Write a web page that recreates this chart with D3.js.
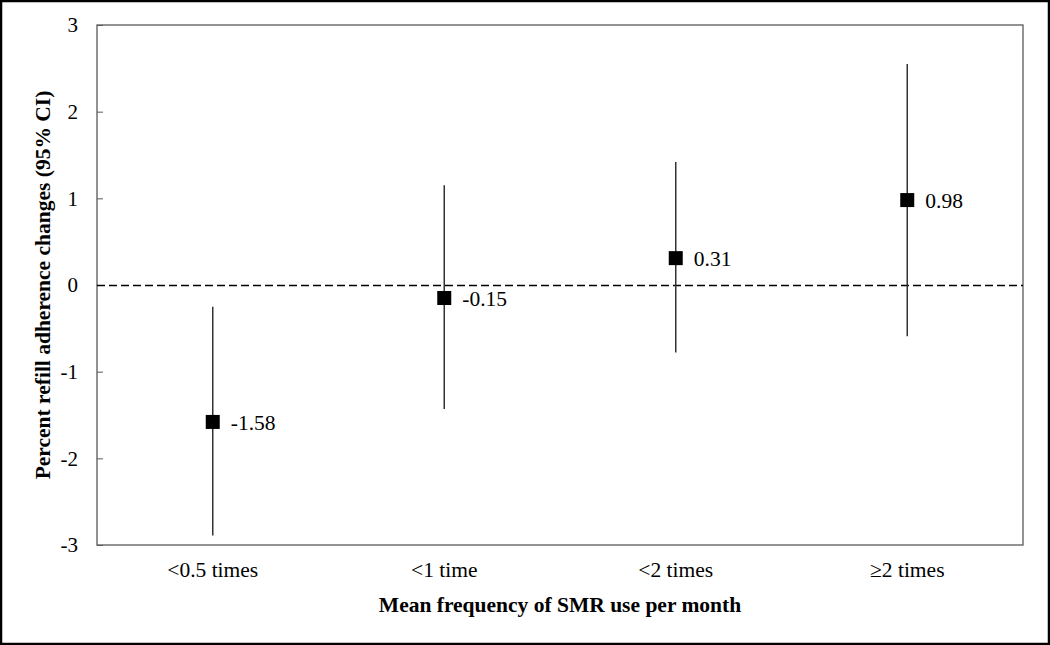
<!DOCTYPE html>
<html>
<head>
<meta charset="utf-8">
<script src="https://cdnjs.cloudflare.com/ajax/libs/d3/7.8.5/d3.min.js"></script>
<style>
  body { margin: 0; background: #fff; }
  svg { display: block; }
</style>
</head>
<body>
<svg></svg>
<script>
var categories = ["<0.5 times", "<1 time", "<2 times", "\u22652 times"];
var estimates = [-1.58, -0.15, 0.31, 0.98];
var lower = [-2.89, -1.43, -0.78, -0.59];
var upper = [-0.25, 1.15, 1.42, 2.55];
var yTicks = [-3, -2, -1, 0, 1, 2, 3];

var width = 1050;
var height = 645;
// plot box edges (don't use "top", it clashes with window.top)
var plotLeft = 97, plotRight = 1023, plotTop = 25, plotBottom = 545;

// plain hyphen for negatives, like the original
var hyphen = (s) => s.replace("\u2212", "-");

var svg = d3.select("svg").attr("width", width).attr("height", height);

// outer frame
svg.append("rect")
  .attr("x", 1).attr("y", 1)
  .attr("width", width - 2).attr("height", height - 2)
  .attr("fill", "none").attr("stroke", "#000").attr("stroke-width", 2.5);

var xScale = d3.scaleBand().domain(categories).range([plotLeft, plotRight]);
var yScale = d3.scaleLinear().domain([-3, 3]).range([plotBottom, plotTop]);

// plot box
svg.append("rect")
  .attr("x", plotLeft).attr("y", plotTop)
  .attr("width", plotRight - plotLeft).attr("height", plotBottom - plotTop)
  .attr("fill", "none").attr("stroke", "#595959").attr("stroke-width", 1.3);

var yAxis = d3.axisLeft(yScale).tickValues(yTicks).tickSize(-6).tickPadding(19)
  .tickFormat((d) => hyphen(d3.format("d")(d)));
var gy = svg.append("g").attr("transform", "translate(" + plotLeft + ",0)").call(yAxis);
gy.select(".domain").remove();
gy.selectAll(".tick line").attr("stroke", "#595959");
gy.selectAll("text").attr("font-family", "Liberation Serif").attr("font-size", 21).attr("fill", "#000");

var xAxis = d3.axisBottom(xScale).tickSize(0).tickPadding(17);
var gx = svg.append("g").attr("transform", "translate(0," + plotBottom + ")").call(xAxis);
gx.select(".domain").remove();
gx.selectAll("text").attr("font-family", "Liberation Serif").attr("font-size", 21.5).attr("fill", "#000");

// zero reference line
svg.append("line")
  .attr("x1", plotLeft).attr("x2", plotRight)
  .attr("y1", yScale(0) + 0.5).attr("y2", yScale(0) + 0.5)
  .attr("stroke", "#000").attr("stroke-width", 1.3)
  .attr("stroke-dasharray", "8,4");

var cx = function (i) { return xScale(categories[i]) + xScale.bandwidth() / 2; };

svg.selectAll(".ci")
  .data(estimates)
  .enter()
  .append("line")
  .attr("class", "ci")
  .attr("x1", (d, i) => cx(i)).attr("x2", (d, i) => cx(i))
  .attr("y1", (d, i) => yScale(upper[i]))
  .attr("y2", (d, i) => yScale(lower[i]))
  .attr("stroke", "#333").attr("stroke-width", 1.5);

svg.selectAll(".pt")
  .data(estimates)
  .enter()
  .append("rect")
  .attr("class", "pt")
  .attr("x", (d, i) => cx(i) - 7)
  .attr("y", (d) => yScale(d) - 7)
  .attr("width", 14).attr("height", 14)
  .attr("fill", "#000");

svg.selectAll(".lbl")
  .data(estimates)
  .enter()
  .append("text")
  .attr("class", "lbl")
  .attr("x", (d, i) => cx(i) + 18)
  .attr("y", (d) => yScale(d) + 8)
  .attr("font-family", "Liberation Serif").attr("font-size", 21.5)
  .text((d) => hyphen(d3.format(".2f")(d)));

svg.append("text")
  .attr("x", 560)
  .attr("y", 612)
  .attr("text-anchor", "middle")
  .attr("font-family", "Liberation Serif").attr("font-size", 21.5).attr("font-weight", "bold")
  .text("Mean frequency of SMR use per month");

svg.append("text")
  .attr("transform", "translate(50," + ((plotTop + plotBottom) / 2) + ") rotate(-90)")
  .attr("text-anchor", "middle")
  .attr("font-family", "Liberation Serif").attr("font-size", 21.5).attr("font-weight", "bold")
  .text("Percent refill adherence changes (95% CI)");
</script>
</body>
</html>
